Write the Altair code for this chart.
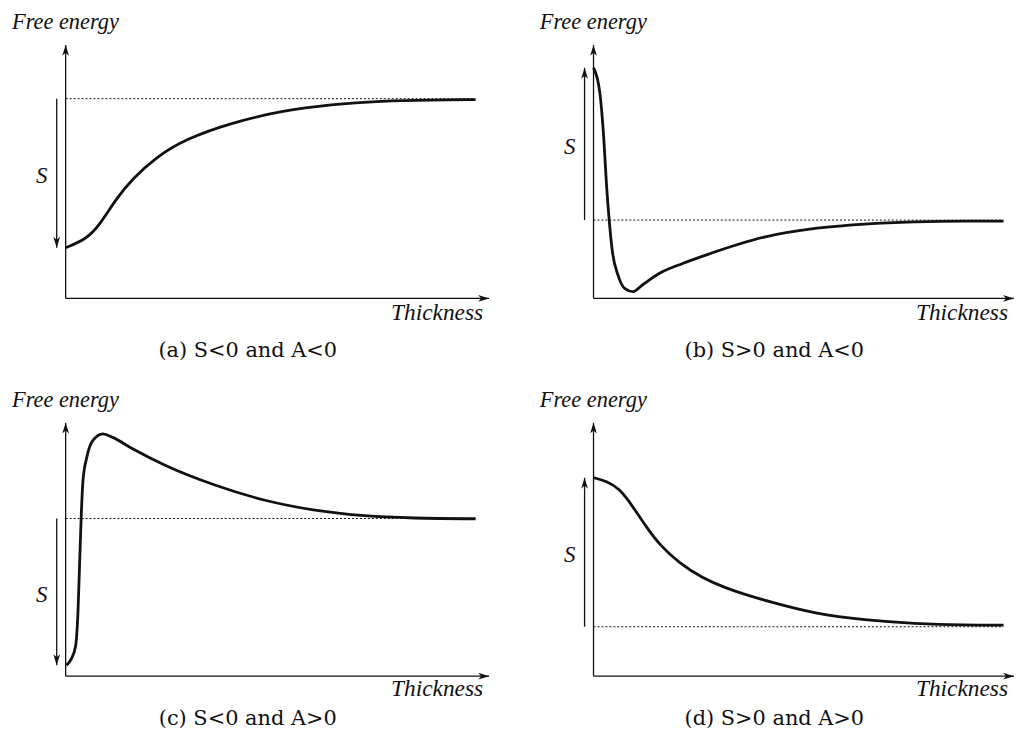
import altair as alt
import pandas as pd

# ---------------- data (thickness 0..100 = axis arrow tip, free energy 0..100 = axis arrow tip)
CAPTIONS = ["(a) S<0 and A<0", "(b) S>0 and A<0", "(c) S<0 and A>0", "(d) S>0 and A>0"]

a_thick = [0, 4.9, 8.0, 11.9, 15.8, 21.3, 28.3, 39.3, 51.0, 62.7, 74.5, 86.2, 96.8]
a_energy = [20.0, 23.4, 28.9, 39.3, 47.2, 55.7, 62.9, 69.4, 74.0, 76.6, 77.9, 78.3, 78.4]
a_far = 78.8

b_thick = [0, 1.5, 2.4, 3.1, 3.7, 4.5, 5.8, 7.4, 9.4, 11.7, 15.7, 21.2, 26.7, 40.9, 52.7, 64.5, 76.4, 88.2, 97.5]
b_energy = [91.0, 81.2, 64.2, 44.6, 31.5, 18.4, 9.3, 4.0, 2.7, 5.4, 9.9, 13.8, 17.1, 24.3, 27.6, 29.3, 30.2, 30.5, 30.5]
b_far = 30.9

c_thick = [0.2, 1.3, 2.35, 2.9, 3.3, 3.7, 4.1, 5.0, 6.4, 8.8, 11.1, 15.8, 23.6, 35.4, 47.1, 58.9, 70.6, 82.3, 96.8]
c_energy = [4.3, 6.7, 11.9, 25.0, 44.6, 64.2, 77.3, 86.4, 92.9, 95.6, 94.2, 89.7, 83.1, 75.3, 69.4, 65.5, 63.3, 62.4, 62.1]
c_far = 62.2

d_thick = [0, 3.1, 6.2, 9.4, 12.5, 15.7, 20.4, 25.9, 31.4, 36.0, 42.0, 52.7, 64.5, 76.4, 88.2, 97.5]
d_energy = [78.3, 77.0, 74.0, 66.8, 59.0, 51.8, 44.6, 38.7, 34.8, 32.2, 29.3, 24.6, 22.1, 20.7, 20.1, 20.1]
d_far = 19.5

SERIES = [(a_thick, a_energy, a_far), (b_thick, b_energy, b_far),
          (c_thick, c_energy, c_far), (d_thick, d_energy, d_far)]
CURVE_STYLE = ["basis", "monotone", "monotone", "basis"]

# ---------------- layout (page pixels)
W, H = 506, 361
COL_X = [8, 514]
ROW_Y = [8, 369]
AX = [66, 597]     # y-axis position per column
TX = [492, 1020]   # x-axis arrow tip per column
AY = [297, 677]    # x-axis position per row
TY = [42, 422]     # y-axis arrow tip per row
CAP_DY = [59, 49]
THK_DY = [22, 20]

ARROW = "M0,0L0.62,2L0,1.45L-0.62,2Z"
FONT = "DejaVu Serif"
IFONT = "Liberation Serif"


def panel(idx):
    r, c = divmod(idx, 2)
    thick, energy, far = SERIES[idx]
    sx = 100.0 / (TX[c] - AX[c])
    sy = 100.0 / (AY[r] - TY[r])
    xdom = [(COL_X[c] - AX[c]) * sx, (COL_X[c] + W - AX[c]) * sx]
    ydom = [(AY[r] - ROW_Y[r] - H) * sy, (AY[r] - ROW_Y[r]) * sy]
    xs = alt.Scale(domain=xdom, nice=False, zero=False)
    ys = alt.Scale(domain=ydom, nice=False, zero=False)

    def X(f, **kw):
        return alt.X(f, type="quantitative", scale=xs, axis=None, **kw)

    def Y(f, **kw):
        return alt.Y(f, type="quantitative", scale=ys, axis=None, **kw)

    curve_df = pd.DataFrame({"t": thick, "e": energy})
    curve = alt.Chart(curve_df).mark_line(
        color="#111111", strokeWidth=2.8, interpolate=CURVE_STYLE[idx]
    ).encode(x=X("t"), y=Y("e"))

    end_t = thick[-1]
    far_df = pd.DataFrame({"t0": [0.0], "t1": [end_t], "e": [far]})
    dotted = alt.Chart(far_df).mark_rule(
        color="#111111", strokeWidth=1, strokeDash=[2, 2]
    ).encode(x=X("t0"), x2="t1", y=Y("e"))

    axes_df = pd.DataFrame({"x0": [0.0, 0.0], "y0": [0.0, 0.0], "x1": [0.0, 100.0], "y1": [100.0, 0.0]})
    axes = alt.Chart(axes_df).mark_rule(color="#111111", strokeWidth=1.3).encode(
        x=X("x0"), y=Y("y0"), x2="x1", y2="y1")

    heads_df = pd.DataFrame({"x": [0.0, 100.0], "y": [100.0, 0.0], "ang": [0, 90]})
    heads = alt.Chart(heads_df).mark_point(
        shape=ARROW, size=121, filled=True, color="#111111", opacity=1, strokeWidth=0
    ).encode(x=X("x"), y=Y("y"), angle=alt.Angle("ang:Q", scale=None))

    s0 = energy[0]
    s_df = pd.DataFrame({"x": [0.0], "y0": [far], "y1": [s0],
                         "ang": [180 if s0 < far else 0], "mid": [(far + s0) / 2]})
    s_line = alt.Chart(s_df).mark_rule(color="#111111", strokeWidth=1.3, xOffset=-9).encode(
        x=X("x"), y=Y("y0"), y2="y1")
    s_head = alt.Chart(s_df).mark_point(
        shape=ARROW, size=121, filled=True, color="#111111", opacity=1, strokeWidth=0, xOffset=-9
    ).encode(x=X("x"), y=Y("y1"), angle=alt.Angle("ang:Q", scale=None))
    s_text = alt.Chart(s_df).mark_text(
        text="S", font=IFONT, fontStyle="italic", fontSize=23, dx=-24, dy=3,
        align="center", baseline="middle", color="#111111"
    ).encode(x=X("x"), y=Y("mid"))

    lab_df = pd.DataFrame({"x": [0.0], "y": [100.0], "x2": [100.0], "y2": [0.0], "xc": [43.0]})
    fe = alt.Chart(lab_df).mark_text(
        text="Free energy", font=IFONT, fontStyle="italic", fontSize=22.5, dx=-54, dy=-16,
        align="left", baseline="alphabetic", color="#111111"
    ).encode(x=X("x"), y=Y("y"))
    th = alt.Chart(lab_df).mark_text(
        text="Thickness", font=IFONT, fontStyle="italic", fontSize=23.5, dx=-6, dy=THK_DY[r],
        align="right", baseline="alphabetic", color="#111111"
    ).encode(x=X("x2"), y=Y("y2"))
    cap = alt.Chart(lab_df).mark_text(
        text=CAPTIONS[idx], font=FONT, fontSize=21, dy=CAP_DY[r],
        align="center", baseline="alphabetic", color="#111111"
    ).encode(x=X("xc"), y=Y("y2"))

    return alt.layer(axes, heads, dotted, s_line, s_head, curve, s_text, fe, th, cap).properties(
        width=W, height=H)


top = alt.hconcat(panel(0), panel(1), spacing=0)
bottom = alt.hconcat(panel(2), panel(3), spacing=0)
chart = alt.vconcat(top, bottom, spacing=0).properties(padding=0).configure_view(stroke=None)

chart.save("out.html", embed_options={"renderer": "svg", "actions": False})
